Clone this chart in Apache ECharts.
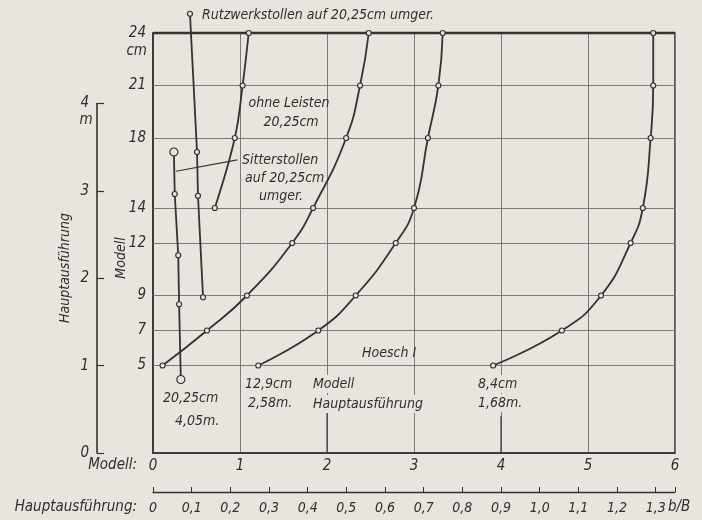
<!DOCTYPE html>
<html><head><meta charset="utf-8">
<script src="https://cdn.jsdelivr.net/npm/echarts@6/dist/echarts.min.js"></script>
<style>html,body{margin:0;padding:0;background:#e8e5de}#c{width:702px;height:520px}</style>
</head><body><div id="c"></div>
<script>
// ---- data ----
const modellTicks = [0, 1, 2, 3, 4, 5, 6];
const cmLabels = [5, 7, 9, 12, 14, 18, 21, 24];
const cmGrid = [5, 7, 9, 12, 14, 18, 21];
const mTicks = [0, 1, 2, 3, 4];
const bBLabels = ['0','0,1','0,2','0,3','0,4','0,5','0,6','0,7','0,8','0,9','1,0','1,1','1,2','1,3'];
// curves: [Modell x, height cm]
const curveA = [[0.11,5],[0.62,7],[1.08,9],[1.60,12],[1.84,14],[2.22,18],[2.38,21],[2.48,24]];
const curveB = [[1.21,5],[1.90,7],[2.33,9],[2.79,12],[3.00,14],[3.16,18],[3.28,21],[3.33,24]];
const curveC = [[3.91,5],[4.70,7],[5.15,9],[5.49,12],[5.63,14],[5.72,18],[5.75,21],[5.75,24]];
const ohneLeisten = [[0.71,14.0],[0.94,18.0],[1.03,21.0],[1.10,24.0]];
const sitterstollen = [[0.24,17.2],[0.25,14.8],[0.29,11.3],[0.30,8.5],[0.32,4.2]];
const rutzwerk = [[0.425,25.1],[0.506,17.2],[0.517,14.7],[0.575,8.9]];
// leader lines (annotation)
const leaderSitter = [[0.265,16.1],[0.97,16.75]];
const leaderHaupt = [[2,2.3],[2,0]];
const leaderHoesch = [[4,2.1],[4,0]];

const BG = '#e8e5de';
const INK = '#333';
const GRID = '#7a7a7a';
const FONT = 'DejaVu Sans Condensed';

const chart = echarts.init(document.getElementById('c'));

function curve(name, data, smooth, bigEnds) {
  return {
    name, type: 'line', data, smooth: smooth,
    xAxisIndex: 0, yAxisIndex: 0, clip: false, z: 5,
    symbol: 'circle',
    symbolSize: (v, p) => (bigEnds && (p.dataIndex === 0 || p.dataIndex === data.length - 1)) ? 8 : 5,
    lineStyle: { color: INK, width: 1.8 },
    itemStyle: { color: BG, borderColor: INK, borderWidth: 1.2 },
    emphasis: { disabled: true }, animation: false
  };
}
function leader(data) {
  return { type: 'line', data, symbol: 'none', clip: false, z: 4,
    lineStyle: { color: INK, width: 1.1 }, animation: false, emphasis: { disabled: true } };
}

const txt = (t, x, y, opt = {}) => ({
  type: 'text', x, y, z: 100, rotation: opt.rot || 0,
  style: Object.assign({
    text: t, fill: '#2f2f2f', font: `italic ${opt.size || 14}px "${FONT}"`,
    align: opt.align || 'left', verticalAlign: 'middle'
  }, opt.bg ? { backgroundColor: BG, padding: [2, 2] } : {})
});

chart.setOption({
  backgroundColor: BG,
  animation: false,
  grid: [
    { left: 153, top: 33, width: 522, height: 420, show: true, borderColor: INK, borderWidth: 1.6, backgroundColor: 'transparent' },
    { left: 97, top: 103.6, width: 1, height: 349.4, show: false }
  ],
  xAxis: [
    { gridIndex: 0, type: 'value', min: 0, max: 6, interval: 1,
      axisLine: { show: true, lineStyle: { color: INK, width: 1.6 } }, axisTick: { show: false },
      axisLabel: { margin: 6, color: '#2f2f2f', fontFamily: FONT, fontStyle: 'italic', fontSize: 15,
        formatter: v => modellTicks.includes(v) ? String(v) : '' },
      splitLine: { show: true, lineStyle: { color: GRID, width: 1 } } },
    { gridIndex: 0, type: 'value', position: 'bottom', offset: 39, min: 0, max: 1.35, interval: 0.1,
      axisLine: { show: true, onZero: false, lineStyle: { color: INK, width: 1.3 } },
      axisTick: { show: true, inside: true, length: 5, lineStyle: { color: INK } },
      axisLabel: { margin: 9, color: '#2f2f2f', fontFamily: FONT, fontStyle: 'italic', fontSize: 14,
        formatter: v => { const i = Math.round(v * 10); return Math.abs(v * 10 - i) < 1e-6 && i < bBLabels.length ? bBLabels[i] : ''; } },
      splitLine: { show: false } },
    { gridIndex: 1, type: 'value', min: 0, max: 1, show: false }
  ],
  yAxis: [
    { gridIndex: 0, type: 'value', min: 0, max: 24, interval: 1,
      axisLine: { show: true, lineStyle: { color: INK, width: 1.6 } }, axisTick: { show: false },
      axisLabel: { margin: 7, color: '#2f2f2f', fontFamily: FONT, fontStyle: 'italic', fontSize: 15,
        formatter: v => cmLabels.includes(v) ? String(v) : '' },
      splitLine: { show: false } },
    { gridIndex: 1, type: 'value', min: 0, max: 4, interval: 1,
      axisLine: { show: true, lineStyle: { color: INK, width: 1.6 } },
      axisTick: { show: true, inside: true, length: 7, lineStyle: { color: INK, width: 1.2 } },
      axisLabel: { margin: 8, color: '#2f2f2f', fontFamily: FONT, fontStyle: 'italic', fontSize: 15,
        formatter: v => mTicks.includes(v) ? String(v) : '' },
      splitLine: { show: false } }
  ],
  series: [
    { type: 'line', data: [], xAxisIndex: 0, yAxisIndex: 0, z: 1, animation: false,
      markLine: { silent: true, symbol: 'none', label: { show: false },
        lineStyle: { color: GRID, width: 1, type: 'solid' },
        data: cmGrid.map(v => ({ yAxis: v })).concat([{ yAxis: 24, lineStyle: { color: INK, width: 2.4 } }]) } },
    curve('A', curveA, 0.5, false),
    curve('B', curveB, 0.5, false),
    curve('C', curveC, 0.5, false),
    curve('ohne Leisten', ohneLeisten, 0.4, false),
    curve('Sitterstollen', sitterstollen, false, true),
    curve('Rutzwerkstollen', rutzwerk, false, false),
    leader(leaderSitter), leader(leaderHaupt), leader(leaderHoesch)
  ],
  graphic: [
    txt('Rutzwerkstollen auf 20,25cm umger.', 202, 15),
    txt('cm', 147, 51, { align: 'right', size: 15 }),
    txt('Modell', 121, 258, { align: 'center', rot: Math.PI / 2 }),
    txt('Hauptausführung', 65, 268, { align: 'center', rot: Math.PI / 2 }),
    txt('m', 86, 120, { align: 'center', size: 15 }),
    txt('ohne Leisten', 289, 103, { align: 'center' }),
    txt('20,25cm', 291, 122, { align: 'center' }),
    txt('Sitterstollen', 242, 160),
    txt('auf 20,25cm', 245, 178),
    txt('umger.', 259, 196),
    txt('20,25cm', 161, 398, { bg: true }),
    txt('4,05m.', 173, 421, { bg: true }),
    txt('12,9cm', 243, 384, { bg: true }),
    txt('2,58m.', 246, 403, { bg: true }),
    txt('Modell', 311, 384, { bg: true }),
    txt('Hauptausführung', 311, 404, { bg: true }),
    txt('Hoesch I', 362, 353),
    txt('8,4cm', 476, 384, { bg: true }),
    txt('1,68m.', 476, 403, { bg: true }),
    txt('Modell:', 137, 465, { align: 'right', size: 15 }),
    txt('Hauptausführung:', 137, 507, { align: 'right', size: 15 }),
    txt('b/B', 668, 507, { size: 15 })
  ]
});
</script></body></html>
